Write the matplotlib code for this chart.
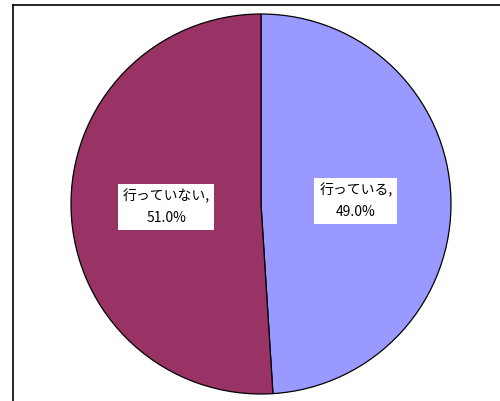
import matplotlib
matplotlib.use("Agg")
import matplotlib.pyplot as plt
from matplotlib.lines import Line2D

plt.rcParams['font.family'] = ['Noto Sans CJK JP', 'DejaVu Sans']

categories = ["行っている", "行っていない"]
shares = [49.0, 51.0]
colors = ["#9999FF", "#993366"]

fig = plt.figure(figsize=(5.00, 4.01), dpi=100)
ax = fig.add_axes([0, 0, 1, 1])

labels = [f"{c},\n{v:.1f}%" for c, v in zip(categories, shares)]
wedges, texts = ax.pie(
    shares, labels=labels, colors=colors, startangle=90, counterclock=False,
    center=(261, 197), radius=190, labeldistance=0.5,
    wedgeprops=dict(edgecolor='black', linewidth=0.9),
    textprops=dict(fontsize=10, ha='center', va='center', linespacing=1.7),
    frame=True,
)
ax.set_xlim(0, 500)
ax.set_ylim(0, 401)
ax.set_aspect('equal')
ax.axis('off')
for t in texts:
    t.set_bbox(dict(facecolor='white', edgecolor='none', pad=3.5))

# chart area frame (left and top edges visible)
ax.add_line(Line2D([12.5, 12.5], [-5, 396.5], color='black', linewidth=1.2))
ax.add_line(Line2D([12.5, 505], [396.5, 396.5], color='black', linewidth=1.2))

fig.savefig("out.png", dpi=100)
